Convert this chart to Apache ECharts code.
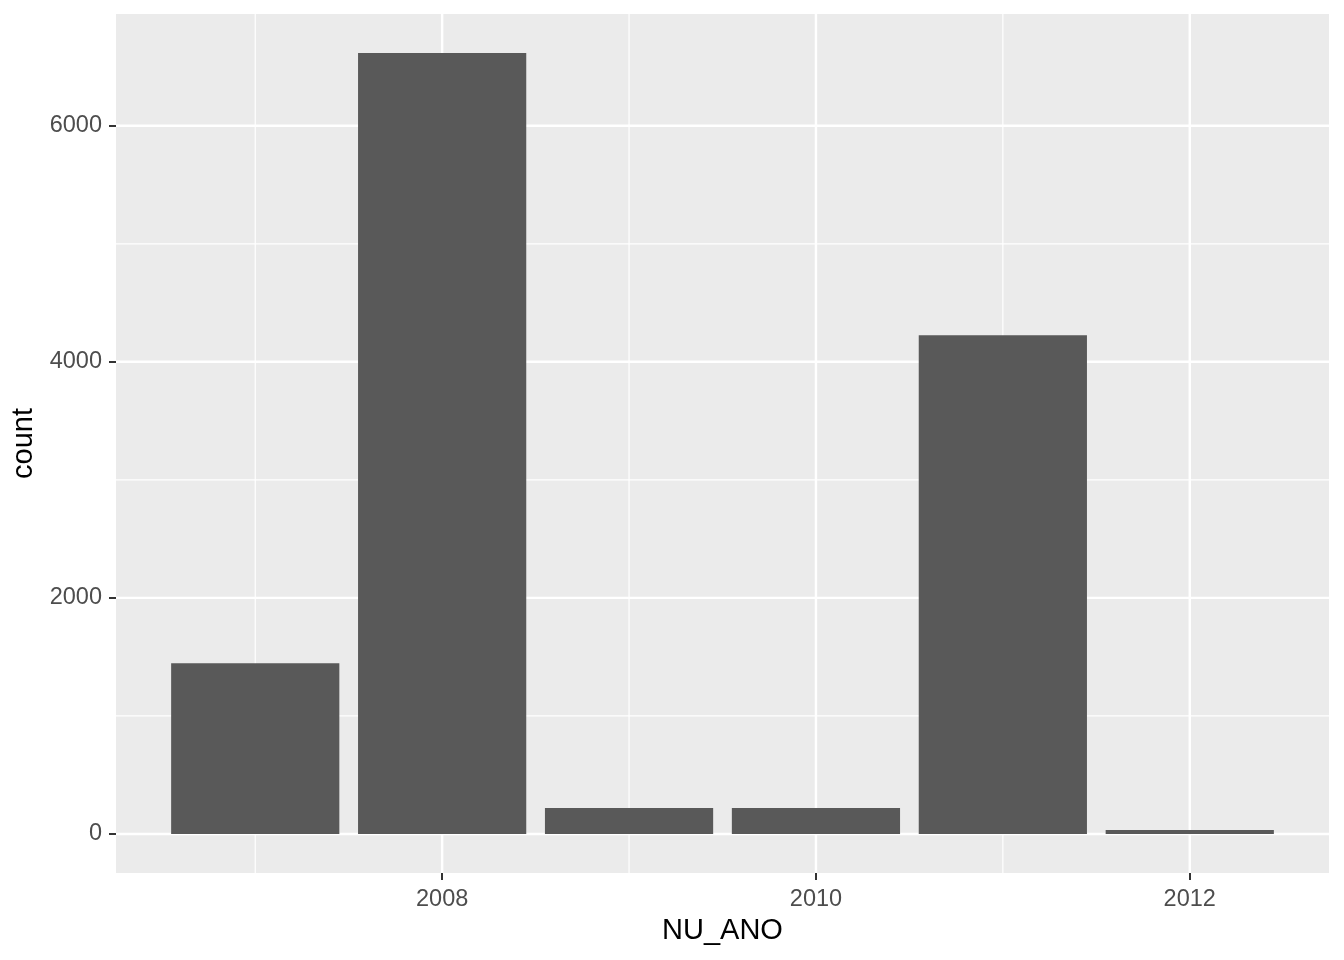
<!DOCTYPE html>
<html>
<head>
<meta charset="utf-8">
<script src="https://cdn.jsdelivr.net/npm/echarts@6/dist/echarts.min.js"></script>
<style>
html,body{margin:0;padding:0;background:#fff;}
#chart{width:1344px;height:960px;}
</style>
</head>
<body>
<div id="chart"></div>
<script>
const years = [2007, 2008, 2009, 2010, 2011, 2012];
const counts = [1447, 6616, 220, 220, 4226, 34];
const xMajor = [2008, 2010, 2012];
const xMinor = [2007, 2009, 2011];
const yMajor = [0, 2000, 4000, 6000];
const yMinor = [1000, 3000, 5000];
const xTitle = 'NU_ANO';
const yTitle = 'count';

const halfBar = 0.45;
const xLo = Math.min(...years) - halfBar, xHi = Math.max(...years) + halfBar;
const xPad = (xHi - xLo) * 0.05;
const xMin = xLo - xPad, xMax = xHi + xPad;
const yTop = Math.max(...counts);
const yMin = -yTop * 0.05, yMax = yTop * 1.05;

// grid line items: [x, y, dir(0=vertical,1=horizontal), width]
const gridData = [];
xMinor.forEach(v => gridData.push([v, 0, 0, 1.2]));
yMinor.forEach(v => gridData.push([xMin, v, 1, 1.2]));
xMajor.forEach(v => gridData.push([v, 0, 0, 2.4]));
yMajor.forEach(v => gridData.push([xMin, v, 1, 2.4]));

const chart = echarts.init(document.getElementById('chart'), null, {renderer: 'canvas'});
const textFont = 'Liberation Sans, Arial, sans-serif';

chart.setOption({
  animation: false,
  grid: {
    left: 116, right: 15, top: 14, bottom: 87,
    containLabel: false, outerBoundsMode: 'none',
    show: true, backgroundColor: '#EBEBEB', borderWidth: 0
  },
  xAxis: {
    type: 'value', min: xMin, max: xMax,
    splitLine: {show: false},
    axisLine: {show: false, onZero: false},
    axisTick: {show: true, customValues: xMajor, length: 7, lineStyle: {color: '#333333', width: 2}},
    axisLabel: {customValues: xMajor, color: '#4D4D4D', fontSize: 23.5, fontFamily: textFont, margin: 15,
      formatter: v => String(v)},
    name: xTitle, nameLocation: 'middle', nameGap: 42,
    nameTextStyle: {color: '#000', fontSize: 29, fontFamily: textFont, verticalAlign: 'top'}
  },
  yAxis: {
    type: 'value', min: yMin, max: yMax,
    splitLine: {show: false},
    axisLine: {show: false, onZero: false},
    axisTick: {show: true, customValues: yMajor, length: 7, lineStyle: {color: '#333333', width: 2}},
    axisLabel: {customValues: yMajor, color: '#4D4D4D', fontSize: 23.5, fontFamily: textFont, margin: 14,
      formatter: v => String(v)},
    name: yTitle, nameLocation: 'middle', nameGap: 69, nameRotate: 90,
    nameTextStyle: {color: '#000', fontSize: 29, fontFamily: textFont}
  },
  series: [
    {
      type: 'custom', z: 1, silent: true,
      data: gridData,
      encode: {x: 0, y: 1},
      renderItem: function (params, api) {
        const cs = params.coordSys;
        const dir = api.value(2), w = api.value(3);
        if (dir === 0) {
          const x = api.coord([api.value(0), 0])[0];
          return {type: 'line', shape: {x1: x, y1: cs.y, x2: x, y2: cs.y + cs.height},
            style: {stroke: '#FFFFFF', lineWidth: w}};
        } else {
          const y = api.coord([xMin, api.value(1)])[1];
          return {type: 'line', shape: {x1: cs.x, y1: y, x2: cs.x + cs.width, y2: y},
            style: {stroke: '#FFFFFF', lineWidth: w}};
        }
      }
    },
    {
      type: 'custom', z: 2,
      data: years.map((y, i) => [y, counts[i]]),
      encode: {x: 0, y: 1},
      renderItem: function (params, api) {
        const yr = api.value(0), c = api.value(1);
        const p0 = api.coord([yr - halfBar, c]);
        const p1 = api.coord([yr + halfBar, 0]);
        return {type: 'rect', shape: {x: p0[0], y: p0[1], width: p1[0] - p0[0], height: p1[1] - p0[1]},
          style: {fill: '#595959'}};
      }
    }
  ]
});
</script>
</body>
</html>
